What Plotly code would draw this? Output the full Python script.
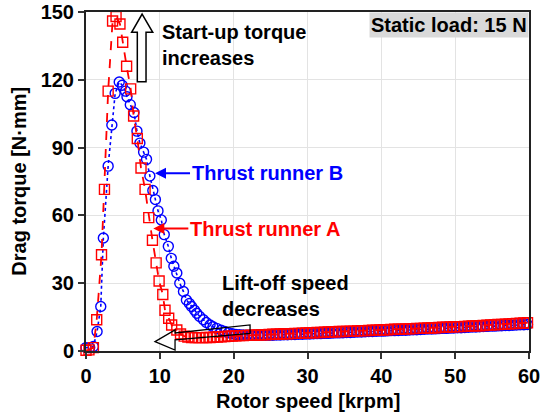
import plotly.graph_objects as go

# ---------------- data ----------------
# Thrust runner A (red squares)
speed_A = [0.0, 0.4, 1.0, 1.45, 2.1, 2.5, 3.0, 3.6, 4.07, 4.6, 4.97, 5.5, 6.05, 6.45,
           6.95, 7.45, 8.0, 8.5, 9.0, 9.5, 9.9, 10.4, 10.7, 11.2, 11.6, 12.3, 12.8, 13.3,
           13.8, 14.3, 14.8, 15.3, 15.8, 16.3, 16.8, 17.3, 17.8, 18.3, 18.8, 19.3, 19.8]
torque_A = [0.3, 0.5, 1.5, 13.8, 42.6, 71.5, 115.0, 146.0, 148.0, 144.7, 136.6, 126.0, 116.0, 104.0,
            94.0, 81.0, 71.5, 59.0, 49.0, 39.0, 31.0, 25.0, 18.0, 14.5, 11.5, 9.3, 7.5, 6.6,
            6.2, 6.0, 5.9, 5.9, 5.9, 6.0, 6.0, 6.1, 6.2, 6.3, 6.4, 6.5, 6.6]

# Thrust runner B (blue circles)
speed_B = [0.0, 0.5, 1.0, 1.5, 2.0, 2.35, 3.0, 3.5, 3.95, 4.5, 4.9, 5.35, 5.55, 6.0, 6.5,
           6.9, 7.3, 7.8, 8.2, 8.65, 9.05, 9.4, 9.75, 10.2, 10.6, 11.15, 11.55, 11.9, 12.3,
           12.7, 13.2, 13.6, 14.0, 14.3, 14.7, 15.0, 15.4, 15.9, 16.3, 16.8, 17.2, 17.7,
           18.3, 18.8, 19.3, 19.8]
torque_B = [1.5, 1.5, 2.0, 8.6, 19.7, 50.0, 81.8, 100.0, 114.0, 119.0, 117.6, 115.0, 112.5, 109.0, 105.5,
            97.3, 92.0, 88.0, 84.8, 77.4, 71.0, 67.0, 62.0, 58.0, 51.5, 46.3, 41.0, 37.5, 34.5,
            30.0, 26.3, 22.6, 21.0, 19.7, 18.0, 16.7, 15.3, 13.8, 12.6, 11.5, 10.7, 10.0,
            9.2, 8.6, 8.0, 7.6]

# high-speed part (shared speed points)
speed_tail = [20.3, 20.8, 21.3, 21.8, 22.3, 22.8, 23.3, 23.8, 24.3, 24.8, 25.3, 25.8, 26.3, 26.8,
              27.3, 27.8, 28.3, 28.8, 29.3, 29.8, 30.3, 30.8, 31.3, 31.8, 32.3, 32.8, 33.3, 33.8,
              34.3, 34.8, 35.3, 35.8, 36.3, 36.8, 37.3, 37.8, 38.3, 38.8, 39.3, 39.8, 40.3, 40.8,
              41.3, 41.8, 42.3, 42.8, 43.3, 43.8, 44.3, 44.8, 45.3, 45.8, 46.3, 46.8, 47.3, 47.8,
              48.3, 48.8, 49.3, 49.8, 50.3, 50.8, 51.3, 51.8, 52.3, 52.8, 53.3, 53.8, 54.3, 54.8,
              55.3, 55.8, 56.3, 56.8, 57.3, 57.8, 58.3, 58.8, 59.3, 59.8]
torque_A_tail = [6.7, 6.8, 6.8, 6.9, 7.0, 7.0, 7.1, 7.2, 7.2, 7.3, 7.4, 7.4, 7.5, 7.6,
                 7.6, 7.7, 7.8, 7.8, 7.9, 8.0, 8.0, 8.1, 8.2, 8.2, 8.3, 8.4, 8.4, 8.5,
                 8.6, 8.6, 8.7, 8.8, 8.8, 8.9, 9.0, 9.0, 9.1, 9.2, 9.2, 9.3, 9.4, 9.4,
                 9.5, 9.6, 9.6, 9.7, 9.8, 9.8, 9.9, 10.0, 10.0, 10.1, 10.2, 10.2, 10.3, 10.4,
                 10.5, 10.5, 10.6, 10.7, 10.8, 10.8, 10.9, 11.0, 11.1, 11.1, 11.2, 11.3, 11.4, 11.5,
                 11.6, 11.7, 11.8, 11.9, 12.0, 12.1, 12.2, 12.3, 12.4, 12.5]
torque_B_tail = [7.3, 7.2, 7.1, 7.0, 7.0, 7.0, 7.0, 7.0, 7.0, 7.0, 7.0, 7.1, 7.1, 7.2,
                 7.2, 7.3, 7.3, 7.4, 7.4, 7.5, 7.5, 7.6, 7.7, 7.7, 7.8, 7.8, 7.9, 8.0,
                 8.0, 8.1, 8.2, 8.2, 8.3, 8.4, 8.4, 8.5, 8.6, 8.6, 8.7, 8.8, 8.8, 8.9,
                 9.0, 9.0, 9.1, 9.2, 9.2, 9.3, 9.4, 9.4, 9.5, 9.6, 9.7, 9.7, 9.8, 9.9,
                 10.0, 10.0, 10.1, 10.2, 10.3, 10.3, 10.4, 10.5, 10.6, 10.6, 10.7, 10.8, 10.9, 11.0,
                 11.0, 11.1, 11.2, 11.3, 11.3, 11.4, 11.5, 11.6, 11.6, 11.7]

x_ticks = [0, 10, 20, 30, 40, 50, 60]
y_ticks = [0, 30, 60, 90, 120, 150]

FONT = "Liberation Sans, Arial, sans-serif"
RED = "#ff0000"
BLUE = "#0000ff"

fig = go.Figure()

fig.add_trace(go.Scatter(
    x=speed_B + speed_tail, y=torque_B + torque_B_tail, mode="lines+markers",
    name="Thrust runner B", cliponaxis=False,
    line=dict(color=BLUE, width=1.6, dash="dot"),
    marker=dict(symbol="circle-open", size=10, color=BLUE, line=dict(width=1.4, color=BLUE)),
))
fig.add_trace(go.Scatter(
    x=speed_A + speed_tail, y=torque_A + torque_A_tail, mode="lines+markers",
    name="Thrust runner A", cliponaxis=False,
    line=dict(color=RED, width=1.8, dash="dash"),
    marker=dict(symbol="square-open", size=10, color=RED, line=dict(width=1.4, color=RED)),
))

bold = dict(family=FONT, size=20, color="black", weight="bold")

annotations = [
    dict(x=10.0, y=135.6, xref="x", yref="y", text="Start-up torque<br>increases",
         showarrow=False, xanchor="left", yanchor="middle", align="left", font=bold),
    dict(x=18.2, y=24.4, xref="x", yref="y", text="Lift-off speed<br>decreases",
         showarrow=False, xanchor="left", yanchor="middle", align="left", font=bold),
    dict(x=9.35, y=78.6, xref="x", yref="y", text="Thrust runner B",
         showarrow=True, arrowhead=2, arrowsize=1.1, arrowwidth=2, arrowcolor=BLUE,
         ax=35, ay=0, xanchor="left", yanchor="middle",
         font=dict(family=FONT, size=20, color=BLUE, weight="bold")),
    dict(x=9.12, y=54.2, xref="x", yref="y", text="Thrust runner A",
         showarrow=True, arrowhead=2, arrowsize=1.1, arrowwidth=2, arrowcolor=RED,
         ax=35, ay=0, xanchor="left", yanchor="middle",
         font=dict(family=FONT, size=20, color=RED, weight="bold")),
    dict(x=1, y=1, xref="paper", yref="paper", text="Static load: 15 N",
         showarrow=False, xanchor="right", yanchor="top", bgcolor="#d9d9d9",
         borderpad=1, font=bold),
    dict(x=0.5, y=-0.147, xref="paper", yref="paper", text="Rotor speed [krpm]",
         showarrow=False, xanchor="center", yanchor="middle", font=bold),
    dict(x=-0.153, y=0.5, xref="paper", yref="paper", text="Drag torque [N·mm]",
         showarrow=False, xanchor="center", yanchor="middle", textangle=-90, font=bold),
]

shapes = [
    dict(type="path", xref="x", yref="y",
         path="M 7.6,149.1 L 9.04,141 L 8.13,141 L 8.13,119.1 L 6.95,119.1 L 6.95,141 L 6.18,141 Z",
         fillcolor="white", line=dict(color="black", width=1.5), layer="above"),
    dict(type="path", xref="x", yref="y",
         path="M 9.35,4.13 L 12.06,9.32 L 12.06,7.99 L 22.22,11.54 L 22.22,7.77 L 12.06,4.88 L 12.06,0.44 Z",
         fillcolor="rgba(255,255,255,0)", line=dict(color="black", width=1.3), layer="above"),
]

fig.update_layout(
    width=552, height=415,
    margin=dict(l=86, r=23, t=12, b=64, autoexpand=False),
    paper_bgcolor="white", plot_bgcolor="white",
    showlegend=False,
    font=dict(family=FONT, size=20, color="black", weight="bold"),
    annotations=annotations, shapes=shapes,
)
fig.update_xaxes(
    range=[0, 60], tickvals=x_ticks, ticks="outside", ticklen=6, tickwidth=1.5, tickcolor="#333",
    showline=True, linecolor="#222", linewidth=2, mirror=True, automargin=False,
    showgrid=True, gridcolor="#e3e3e3", gridwidth=1, zeroline=False,
    tickfont=dict(family=FONT, size=20, color="black", weight="bold"),
)
fig.update_yaxes(
    range=[0, 150], tickvals=y_ticks, ticks="outside", ticklen=6, tickwidth=1.5, tickcolor="#333",
    showline=True, linecolor="#222", linewidth=2, mirror=True, automargin=False,
    showgrid=True, gridcolor="#e3e3e3", gridwidth=1, zeroline=False,
    tickfont=dict(family=FONT, size=20, color="black", weight="bold"),
)

fig.write_html("out.html")
